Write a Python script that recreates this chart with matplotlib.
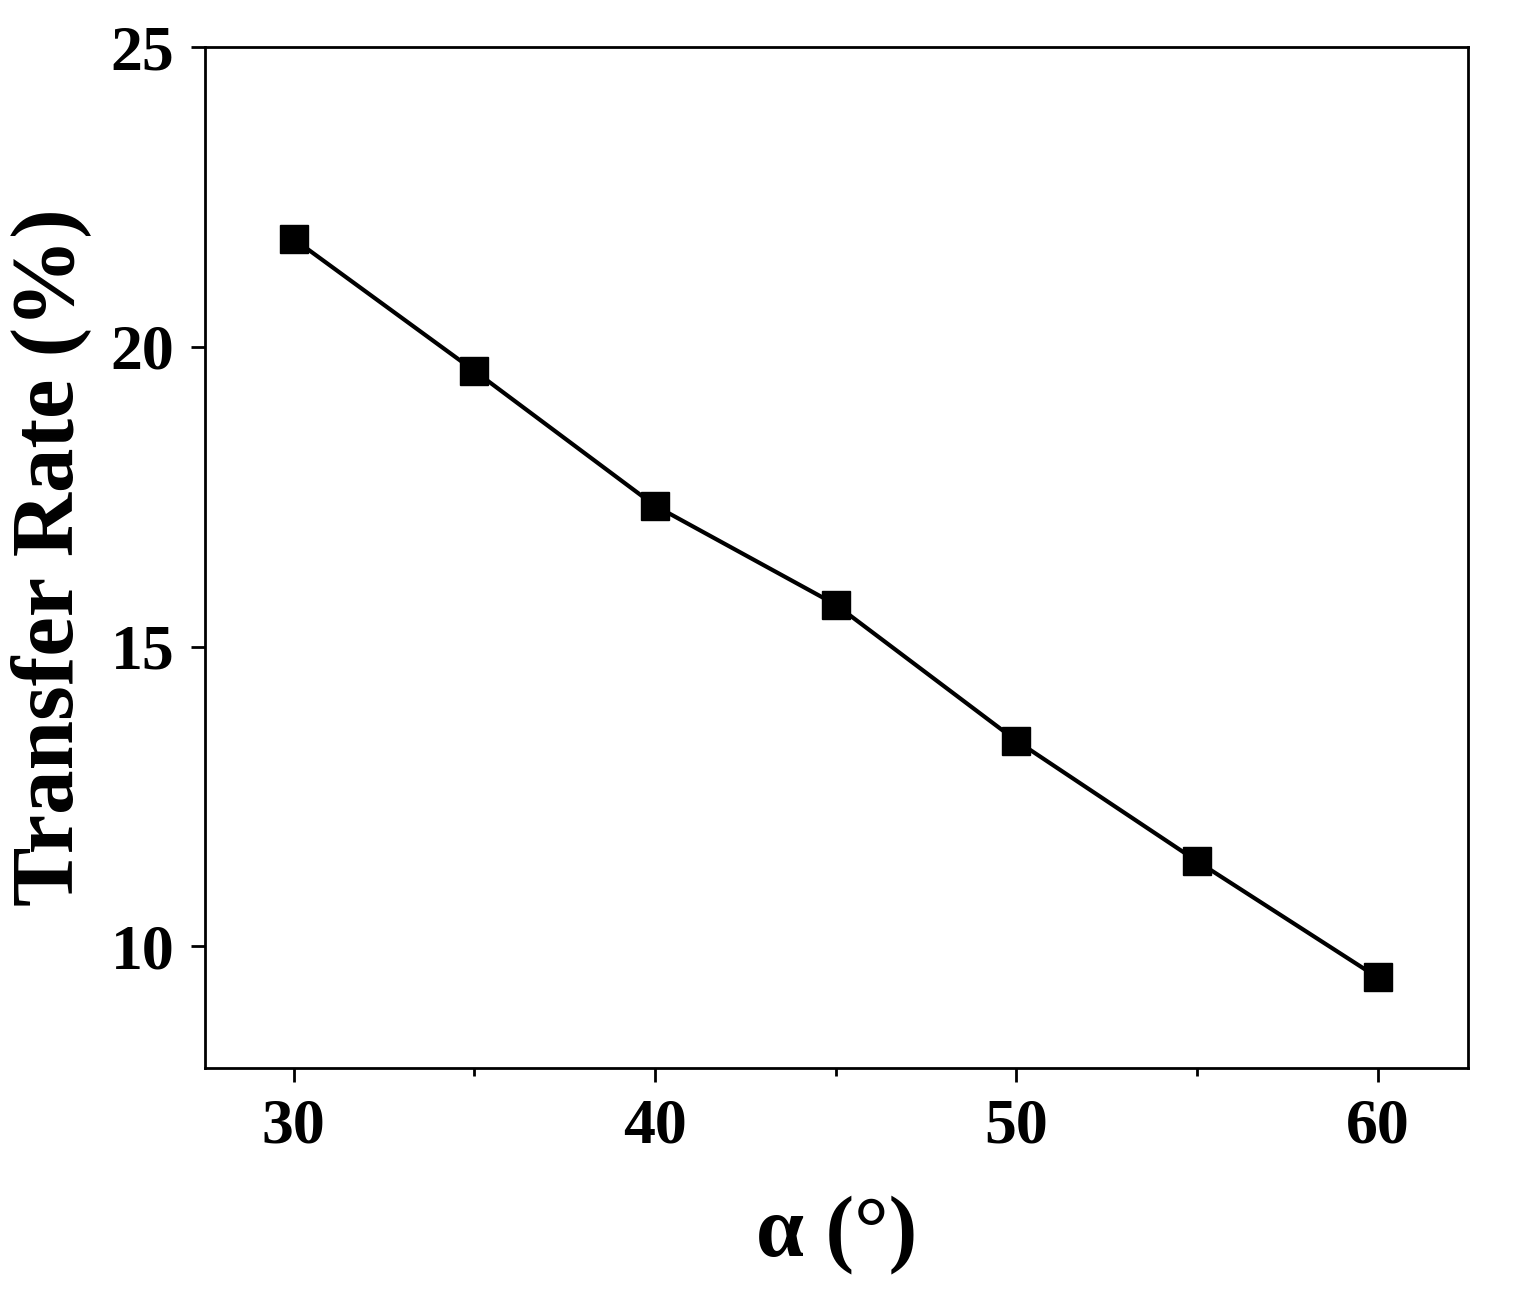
import matplotlib.pyplot as plt
from matplotlib.ticker import MultipleLocator

plt.rcParams['font.family'] = ['Liberation Serif', 'DejaVu Serif']
plt.rcParams['font.weight'] = 'bold'

alpha = [30, 35, 40, 45, 50, 55, 60]
rate = [21.8, 19.6, 17.35, 15.7, 13.43, 11.42, 9.48]

fig = plt.figure(figsize=(15.13, 13.09), dpi=100)
ax = fig.add_axes([205 / 1513, 1 - 1068 / 1309, 1263 / 1513, 1021 / 1309])
ax.plot(alpha, rate, color='black', lw=3, marker='s', ms=20)
ax.set_xlim(27.55, 62.5)
ax.set_ylim(7.97, 25)
ax.xaxis.set_major_locator(MultipleLocator(10))
ax.xaxis.set_minor_locator(MultipleLocator(5))
ax.yaxis.set_major_locator(MultipleLocator(5))
ax.tick_params(direction='out', width=2, length=10, labelsize=46, pad=12)
ax.tick_params(which='minor', direction='out', width=2, length=6)
for s in ax.spines.values():
    s.set_linewidth(2)
ax.set_xlabel('α (°)', fontsize=62, fontweight='bold', labelpad=28)
ax.set_ylabel('Transfer Rate (%)', fontsize=64, fontweight='bold', labelpad=14)
fig.savefig('out.png', dpi=100)
